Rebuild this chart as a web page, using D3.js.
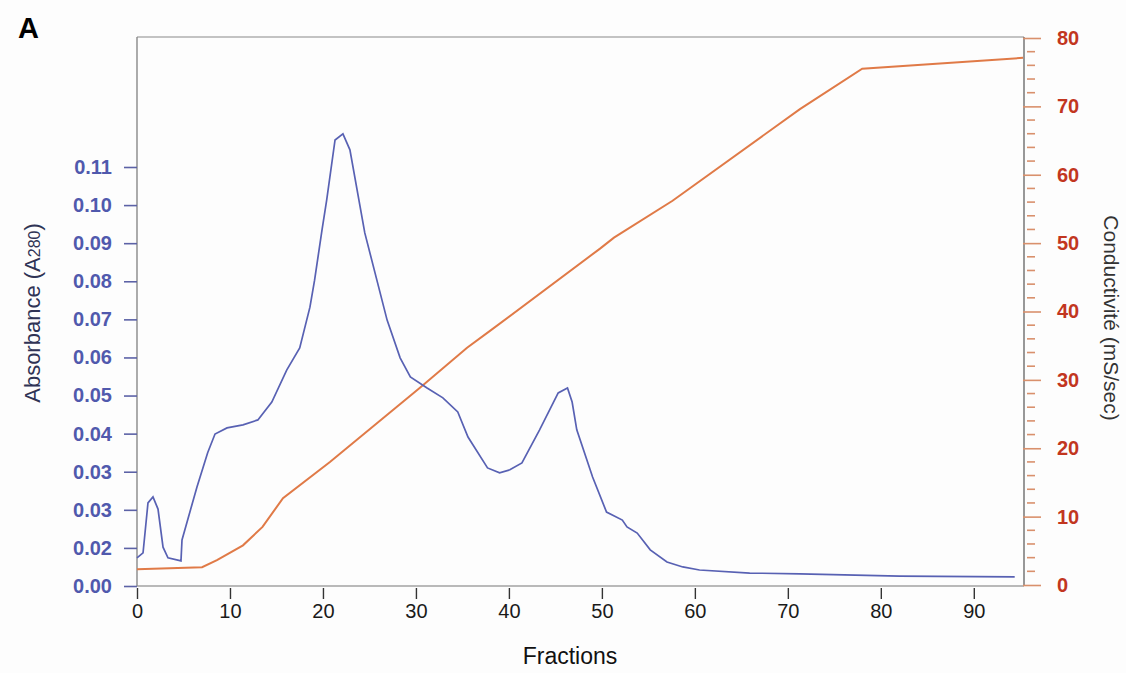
<!DOCTYPE html>
<html><head><meta charset="utf-8">
<script src="https://cdn.jsdelivr.net/npm/d3@7"></script>
<style>
html,body{margin:0;padding:0;background:#fdfdfd;}
svg{display:block;font-family:"Liberation Sans",Arial,sans-serif;}
</style></head>
<body>
<svg id="chart" width="1126" height="673"></svg>
<script>
// Absorbance (A280) trace: fraction number and absorbance
const absFractions = [0,0.65,1.18,1.72,2.26,2.8,3.33,4.73,4.84,6.45,7.6,8.39,9.68,11.4,13.0,14.5,16.1,17.5,18.6,19.1,19.9,20.4,21.3,22.15,22.9,24.5,25.8,26.9,28.3,29.4,31.2,32.9,34.5,35.6,37.7,39.0,40.1,41.4,43.3,45.3,46.3,46.8,47.3,49.0,50.5,52.2,52.7,53.8,55.2,57.0,58.7,60.5,65.9,71.3,82.0,94.4];
const absValues = [0.0074,0.0087,0.0218,0.0234,0.0202,0.0102,0.0074,0.0066,0.0121,0.0260,0.0350,0.0399,0.0415,0.0423,0.0436,0.0483,0.0567,0.0625,0.0732,0.0803,0.0935,0.1013,0.1171,0.1187,0.1145,0.0927,0.0803,0.0698,0.0599,0.0549,0.0520,0.0494,0.0457,0.0391,0.0310,0.0297,0.0305,0.0323,0.0410,0.0507,0.0520,0.0483,0.0410,0.0286,0.0194,0.0173,0.0155,0.0139,0.0095,0.0063,0.0050,0.0042,0.0034,0.0032,0.0026,0.0024];
// Conductivity trace (mS/sec)
const condFractions = [0,7.0,8.6,11.4,13.5,15.7,20.75,30.4,35.5,38.0,49.8,51.3,57.6,71.3,78.0,95.3];
const condValues = [2.3,2.6,3.65,5.8,8.5,12.7,18.0,28.8,34.7,37.2,49.2,50.8,56.2,69.6,75.5,77.1];
// Tick labels
const xTicks = [0,10,20,30,40,50,60,70,80,90];
const leftTickValues = [0,0.01,0.02,0.03,0.04,0.05,0.06,0.07,0.08,0.09,0.10,0.11];
const leftTickLabels = ["0.00","0.02","0.03","0.03","0.04","0.05","0.06","0.07","0.08","0.09","0.10","0.11"];
const rightMajorTicks = [0,10,20,30,40,50,60,70,80];
const rightMinorTicks = d3.range(0, 81, 2);

const svg = d3.select("#chart");
const L = 137, R = 1024, T = 37, B = 586;

const x = d3.scaleLinear().domain([0, 95.4]).range([L, R]);
const yL = d3.scaleLinear().domain([0, 0.11]).range([B, 167]);
const yR = d3.scaleLinear().domain([0, 80]).range([B - 1, 38]);

const blue = "#5861b3", orange = "#e07a47";

// frame
svg.append("line").attr("x1", L).attr("x2", R).attr("y1", T).attr("y2", T).attr("stroke", "#8a8a8a").attr("stroke-width", 1.2);
svg.append("line").attr("x1", L).attr("x2", R).attr("y1", B).attr("y2", B).attr("stroke", "#777").attr("stroke-width", 1.2);
svg.append("line").attr("x1", L).attr("x2", L).attr("y1", T).attr("y2", B).attr("stroke", "#888").attr("stroke-width", 1.4);
svg.append("line").attr("x1", R).attr("x2", R).attr("y1", T).attr("y2", B).attr("stroke", "#555").attr("stroke-width", 1.2);

// bottom axis
const xAxis = svg.append("g").attr("transform", `translate(0,${B + 2})`)
  .call(d3.axisBottom(x).tickValues(xTicks).tickSize(11).tickPadding(5).tickFormat(d3.format("d")));
xAxis.select(".domain").remove();
xAxis.selectAll(".tick line").attr("stroke", "#333").attr("stroke-width", 1.4);
xAxis.selectAll(".tick text").attr("font-size", 20).attr("fill", "#1a1a1a").attr("font-family", "Liberation Sans, Arial, sans-serif");

// left axis
const yAxisL = svg.append("g").attr("transform", `translate(${L},0)`)
  .call(d3.axisLeft(yL).tickValues(leftTickValues).tickSize(13).tickPadding(12)
    .tickFormat((d, i) => leftTickLabels[i]));
yAxisL.select(".domain").remove();
yAxisL.selectAll(".tick line").attr("stroke", "#5c62a6").attr("stroke-width", 1.6);
yAxisL.selectAll(".tick text").attr("font-size", 20).attr("font-weight", "bold").attr("fill", "#5059ad")
  .attr("font-family", "Liberation Sans, Arial, sans-serif");

// right axis: minor ticks
svg.append("g").selectAll("line").data(rightMinorTicks.filter(d => d % 10 !== 0)).join("line")
  .attr("x1", R + 3).attr("x2", R + 11).attr("y1", d => yR(d)).attr("y2", d => yR(d))
  .attr("stroke", "#d9906c").attr("stroke-width", 1.6);
const yAxisR = svg.append("g").attr("transform", `translate(${R},0)`)
  .call(d3.axisRight(yR).tickValues(rightMajorTicks).tickSize(17).tickPadding(16).tickFormat(d3.format("d")));
yAxisR.select(".domain").remove();
yAxisR.selectAll(".tick line").attr("stroke", "#d9906c").attr("stroke-width", 1.6).attr("x1", -1);
yAxisR.selectAll(".tick text").attr("font-size", 20).attr("font-weight", "bold").attr("fill", "#c2361f")
  .attr("font-family", "Liberation Sans, Arial, sans-serif");

// lines
const condData = condFractions.map((f, i) => [f, condValues[i]]);
const absData = absFractions.map((f, i) => [f, absValues[i]]);
svg.append("path").datum(condData)
  .attr("d", d3.line().x(d => x(d[0])).y(d => yR(d[1])))
  .attr("fill", "none").attr("stroke", orange).attr("stroke-width", 2);
svg.append("path").datum(absData)
  .attr("d", d3.line().x(d => x(d[0])).y(d => yL(d[1])))
  .attr("fill", "none").attr("stroke", blue).attr("stroke-width", 1.7);

// axis titles
svg.append("text").attr("x", 570).attr("y", 664).attr("text-anchor", "middle")
  .attr("font-size", 23).attr("fill", "#111").text("Fractions");

const lt = svg.append("text").attr("transform", "translate(40,313) rotate(-90)").attr("text-anchor", "middle")
  .attr("font-size", 22).attr("fill", "#2f3355");
lt.append("tspan").text("Absorbance (A");
lt.append("tspan").attr("font-size", 16).text("280");
lt.append("tspan").text(")");

svg.append("text").attr("transform", "translate(1104,318) rotate(90)").attr("text-anchor", "middle")
  .attr("font-size", 21).attr("fill", "#333").text("Conductivité (mS/sec)");

svg.append("text").attr("x", 18).attr("y", 38).attr("font-size", 29).attr("font-weight", "bold")
  .attr("fill", "#000").text("A");
</script>
</body></html>
